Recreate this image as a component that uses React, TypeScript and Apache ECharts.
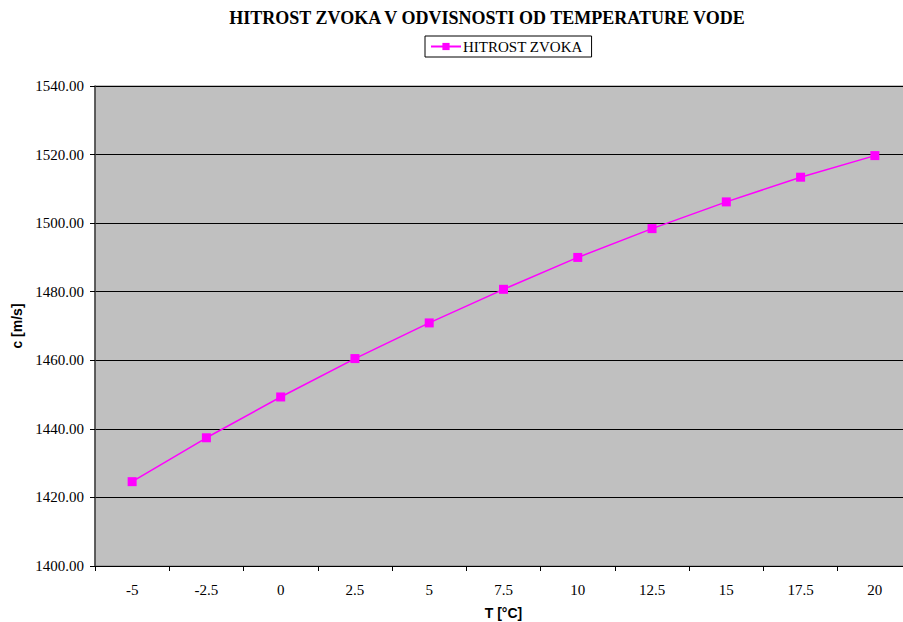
import React, { useEffect, useRef } from "react";
import * as echarts from "echarts";

// Temperature of water (°C) and speed of sound c (m/s)
const temperatures = ["-5", "-2.5", "0", "2.5", "5", "7.5", "10", "12.5", "15", "17.5", "20"];
const soundSpeed = [1424.6, 1437.4, 1449.3, 1460.5, 1470.9, 1480.7, 1490.0, 1498.4, 1506.2, 1513.4, 1519.7];
const seriesName = "HITROST ZVOKA";
const chartTitle = "HITROST ZVOKA V ODVISNOSTI OD TEMPERATURE VODE";

const SERIF = "Liberation Serif";
const SANS = "Liberation Sans";

export default function App() {
  const ref = useRef<HTMLDivElement>(null);

  useEffect(() => {
    document.body.style.margin = "0";
    if (!ref.current) return;
    const chart = echarts.init(ref.current, null, { renderer: "svg" });
    chart.setOption({
      animation: false,
      backgroundColor: "#ffffff",
      graphic: [
        {
          type: "text",
          x: 487,
          y: 9,
          style: {
            text: chartTitle,
            fill: "#000",
            fontFamily: SERIF,
            fontWeight: "bold",
            fontSize: 18,
            textAlign: "center",
            textVerticalAlign: "top",
          },
        },
      ],
      legend: {
        show: true,
        left: 425,
        top: 36,
        orient: "horizontal",
        borderColor: "#000",
        borderWidth: 1,
        borderRadius: 0,
        padding: [3, 9, 3, 5],
        itemWidth: 30,
        itemHeight: 9,
        itemGap: 4,
        textStyle: { fontFamily: SERIF, fontSize: 15, color: "#000", padding: [0, 0, 0, -3] },
        data: [{ name: seriesName }],
      },
      grid: {
        left: 95,
        top: 86,
        width: 817,
        height: 480,
        show: true,
        backgroundColor: "#C0C0C0",
        borderColor: "#808080",
        borderWidth: 1,
        containLabel: false,
        outerBoundsMode: "none",
      },
      xAxis: {
        type: "category",
        data: temperatures,
        boundaryGap: true,
        name: "T [°C]",
        nameLocation: "middle",
        nameGap: 40,
        nameTextStyle: { fontFamily: SANS, fontWeight: "bold", fontSize: 14, color: "#000" },
        axisLine: { show: true, lineStyle: { color: "#000", width: 1 } },
        axisTick: { show: true, length: 5, lineStyle: { color: "#000" } },
        axisLabel: { fontFamily: SERIF, fontSize: 15, color: "#000", margin: 16 },
        splitLine: { show: false },
      },
      yAxis: {
        type: "value",
        min: 1400,
        max: 1540,
        interval: 20,
        name: "c [m/s]",
        nameLocation: "middle",
        nameGap: 70,
        nameTextStyle: { fontFamily: SANS, fontWeight: "bold", fontSize: 14, color: "#000" },
        axisLine: { show: true, lineStyle: { color: "#404040", width: 1.5 } },
        axisTick: { show: true, length: 5, lineStyle: { color: "#000" } },
        axisLabel: {
          fontFamily: SERIF,
          fontSize: 15,
          color: "#000",
          margin: 11,
          formatter: (v: number) => v.toFixed(2),
        },
        splitLine: { show: true, lineStyle: { color: "#000", width: 1 } },
      },
      series: [
        {
          name: seriesName,
          type: "line",
          data: soundSpeed,
          symbol: "rect",
          symbolSize: 9,
          showSymbol: true,
          lineStyle: { color: "#FF00FF", width: 1.5 },
          itemStyle: { color: "#FF00FF", borderWidth: 0 },
          emphasis: { disabled: true },
        },
      ],
    });
    return () => chart.dispose();
  }, []);

  return <div ref={ref} style={{ width: 903, height: 622 }} />;
}
